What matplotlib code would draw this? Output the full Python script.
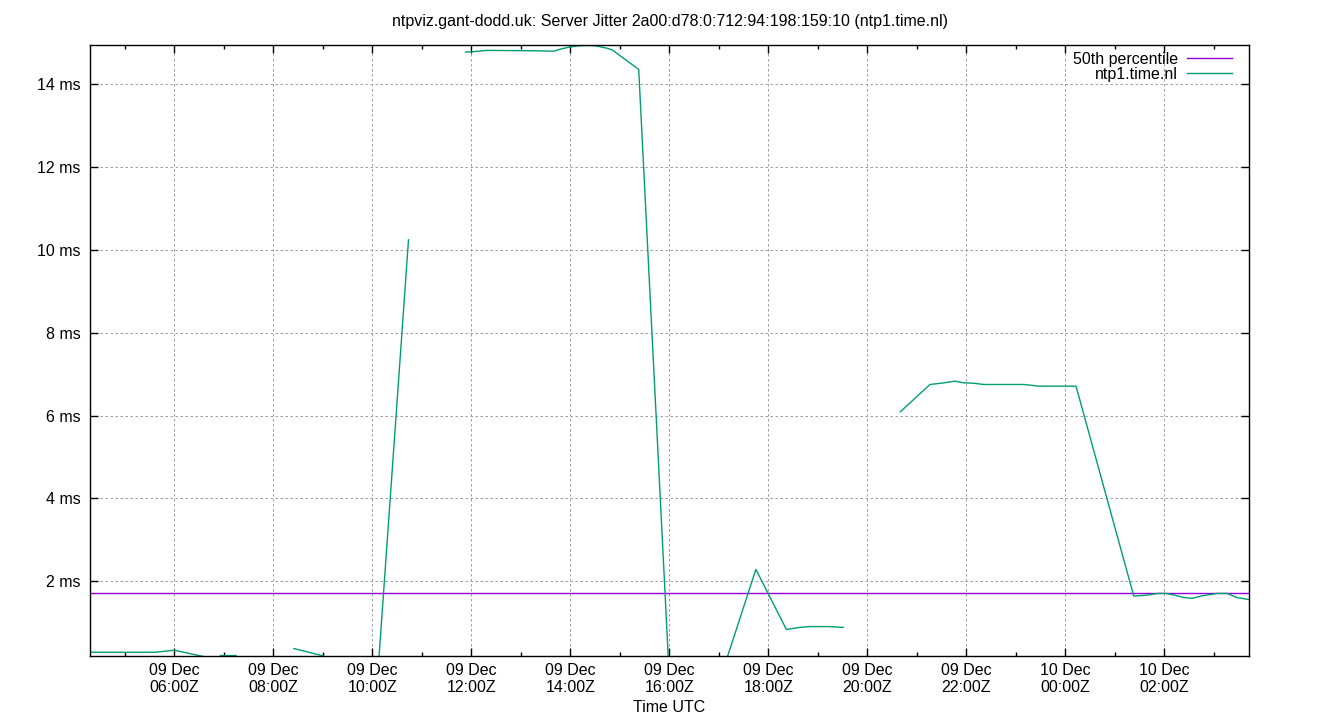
import matplotlib
matplotlib.use("Agg")
import matplotlib.pyplot as plt
import matplotlib.dates as mdates
import numpy as np
import pandas as pd

plt.rcParams["font.family"] = ["Liberation Sans", "DejaVu Sans"]

TITLE = "ntpviz.gant-dodd.uk: Server Jitter 2a00:d78:0:712:94:198:159:10 (ntp1.time.nl)"

# sample times (UTC) and jitter in ms; None marks a gap in the record
TIMES = [
    "2024-12-09 04:18", "2024-12-09 05:37", "2024-12-09 06:00", "2024-12-09 06:35", None,
    "2024-12-09 06:56", "2024-12-09 07:15", None,
    "2024-12-09 08:25", "2024-12-09 09:01", None,
    "2024-12-09 10:08", "2024-12-09 10:44", None,
    "2024-12-09 11:53", "2024-12-09 12:03", "2024-12-09 12:19", "2024-12-09 13:20",
    "2024-12-09 13:40", "2024-12-09 13:48", "2024-12-09 13:59", "2024-12-09 14:10",
    "2024-12-09 14:21", "2024-12-09 14:31", "2024-12-09 14:45", "2024-12-09 14:51",
    "2024-12-09 15:23", "2024-12-09 15:59", None,
    "2024-12-09 17:10", "2024-12-09 17:45", "2024-12-09 18:22", "2024-12-09 18:38",
    "2024-12-09 18:51", "2024-12-09 19:13", "2024-12-09 19:31", None,
    "2024-12-09 20:40", "2024-12-09 21:16", "2024-12-09 21:33", "2024-12-09 21:46",
    "2024-12-09 21:57", "2024-12-09 22:09", "2024-12-09 22:21", "2024-12-09 23:10",
    "2024-12-09 23:28", "2024-12-10 00:13", "2024-12-10 01:23", "2024-12-10 01:40",
    "2024-12-10 01:52", "2024-12-10 02:02", "2024-12-10 02:12", "2024-12-10 02:24",
    "2024-12-10 02:34", "2024-12-10 02:44", "2024-12-10 03:04", "2024-12-10 03:16",
    "2024-12-10 03:28", "2024-12-10 03:43",
]
JITTER_MS = [
    0.29, 0.29, 0.34, 0.19, None,
    0.21, 0.21, None,
    0.38, 0.20, None,
    0.10, 10.24, None,
    14.77, 14.78, 14.81, 14.80,
    14.79, 14.84, 14.89, 14.92,
    14.93, 14.92, 14.86, 14.82,
    14.35, 0.10, None,
    0.15, 2.29, 0.84, 0.89,
    0.91, 0.91, 0.89, None,
    6.09, 6.75, 6.79, 6.83,
    6.79, 6.78, 6.75, 6.75,
    6.71, 6.71, 1.645, 1.67,
    1.71, 1.71, 1.67, 1.61,
    1.59, 1.645, 1.71, 1.71,
    1.61, 1.56,
]
P50_MS = 1.71

X_RANGE = ["2024-12-09 04:18", "2024-12-10 03:43"]
Y_RANGE = [0.2, 14.94]
Y_TICKS = [2, 4, 6, 8, 10, 12, 14]
X_TICKS = ["2024-12-09 06:00", "2024-12-09 08:00", "2024-12-09 10:00", "2024-12-09 12:00",
           "2024-12-09 14:00", "2024-12-09 16:00", "2024-12-09 18:00", "2024-12-09 20:00",
           "2024-12-09 22:00", "2024-12-10 00:00", "2024-12-10 02:00"]
X_TICK_LABELS = ["09 Dec\n06:00Z", "09 Dec\n08:00Z", "09 Dec\n10:00Z", "09 Dec\n12:00Z",
                 "09 Dec\n14:00Z", "09 Dec\n16:00Z", "09 Dec\n18:00Z", "09 Dec\n20:00Z",
                 "09 Dec\n22:00Z", "10 Dec\n00:00Z", "10 Dec\n02:00Z"]

PURPLE = "#9400d3"
TEAL = "#009e73"
FS = 11.5


def main() -> None:
    times = pd.to_datetime(pd.Series(TIMES))
    values = pd.to_numeric(pd.Series(JITTER_MS, dtype="float"))
    # gaps: give the NaN rows a time so matplotlib just breaks the line there
    times = times.ffill()

    fig = plt.figure(figsize=(13.4, 7.2), dpi=100)
    ax = fig.add_axes([90 / 1340, 64 / 720, 1159.3 / 1340, 611 / 720])

    ax.axhline(P50_MS, color=PURPLE, linewidth=1.0, label="50th percentile")
    ax.plot(times, values, color=TEAL, linewidth=1.0, label="ntp1.time.nl")

    ax.set_xlim(pd.to_datetime(X_RANGE[0]), pd.to_datetime(X_RANGE[1]))
    ax.set_ylim(*Y_RANGE)

    ax.set_yticks(Y_TICKS, [f"{v} ms" for v in Y_TICKS])
    ax.set_xticks(pd.to_datetime(X_TICKS), X_TICK_LABELS)
    for lbl in ax.get_xticklabels():
        lbl.set_linespacing(1.2)
    ax.xaxis.set_minor_locator(mdates.HourLocator(byhour=range(1, 24, 2)))

    ax.tick_params(which="both", direction="in", top=True, right=True,
                   labelsize=FS, width=1.0, color="black")
    ax.tick_params(axis="y", which="major", length=6, pad=7)
    ax.tick_params(axis="x", which="major", length=6, pad=5)
    ax.tick_params(axis="x", which="minor", length=3)

    ax.grid(which="major", color="#a0a0a0", linestyle=(0, (2.5, 2.5)), linewidth=0.72)
    for sp in ax.spines.values():
        sp.set_linewidth(1.0)

    ax.legend(loc="upper right", bbox_to_anchor=(1232 / 1340, 668 / 720),
              bbox_transform=fig.transFigure, frameon=False, markerfirst=False,
              fontsize=FS, handlelength=2.8, handletextpad=0.6,
              labelspacing=0.0, borderpad=0, borderaxespad=0)

    fig.text(0.5, 1 - 21.5 / 720, TITLE, ha="center", va="center", fontsize=FS)
    fig.text(669.6 / 1340, 1 - 707.5 / 720, "Time UTC", ha="center", va="center", fontsize=FS)

    fig.savefig("out.png", dpi=100)
    plt.close(fig)


if __name__ == "__main__":
    main()
